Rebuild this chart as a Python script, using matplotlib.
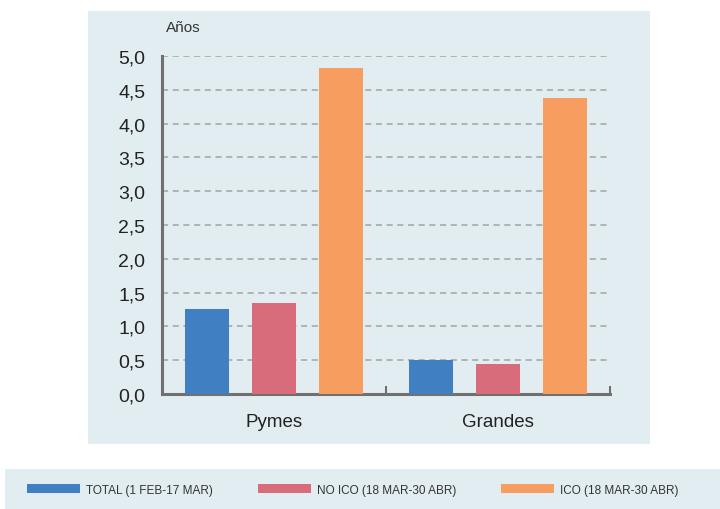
import numpy as np
import matplotlib
matplotlib.use("Agg")
import matplotlib.pyplot as plt
from matplotlib.patches import Rectangle, Patch
from matplotlib.ticker import FuncFormatter, MultipleLocator, FixedLocator

plt.rcParams['font.family'] = ['Liberation Sans', 'DejaVu Sans']

# data (years)
categories = ["Pymes", "Grandes"]
series_names = ["TOTAL (1 FEB-17 MAR)", "NO ICO (18 MAR-30 ABR)", "ICO (18 MAR-30 ABR)"]
total = [1.26, 0.50]
no_ico = [1.35, 0.44]
ico = [4.82, 4.38]
colors = ["#3f7fc2", "#d96c7b", "#f89d60"]

fig = plt.figure(figsize=(7.2, 5.1), dpi=100)
fig.patch.set_facecolor("white")

# background panels
fig.patches.append(Rectangle((0.122, 0.1275), 0.781, 0.849, transform=fig.transFigure,
                             facecolor="#e2edf2", edgecolor="none", zorder=-5))
fig.patches.append(Rectangle((0.007, 0.0), 0.993, 0.078, transform=fig.transFigure,
                             facecolor="#e2edf2", edgecolor="none", zorder=-5))

ax = fig.add_axes([0.225, 0.2255, 0.622, 0.6625])
ax.set_facecolor("none")

x = np.arange(len(categories))
w = 0.196
for i, vals in enumerate([total, no_ico, ico]):
    ax.bar(x + (i - 1) * 0.3, vals, width=w, color=colors[i], zorder=3)

ax.set_xlim(-0.5, 1.5)
ax.set_ylim(0, 5)
ax.yaxis.set_major_locator(MultipleLocator(0.5))
ax.yaxis.set_major_formatter(FuncFormatter(lambda v, p: f"{v:.1f}".replace(".", ",")))
ax.grid(axis="y", linestyle=(0, (4, 3)), color="#a3a3a3", linewidth=1.1, zorder=1)

ax.set_xticks(x)
ax.set_xticklabels(categories, fontsize=13.5, color="#222222")
ax.xaxis.set_minor_locator(FixedLocator([0.5, 1.5]))
ax.tick_params(axis="x", which="major", length=0, pad=14)
ax.tick_params(axis="x", which="minor", direction="in", length=6, width=1.5, color="#707070")
ax.tick_params(axis="y", length=0, pad=12, labelsize=14, labelcolor="#222222")

for s in ["top", "right"]:
    ax.spines[s].set_visible(False)
for s in ["left", "bottom"]:
    ax.spines[s].set_color("#707070")
    ax.spines[s].set_linewidth(2.2)

ax.text(0.008, 1.087, "Años", transform=ax.transAxes, fontsize=11,
        color="#333333", va="center", ha="left")

handles = [Patch(facecolor=c, edgecolor="none") for c in colors]
leg = fig.legend(handles, series_names, loc="center", bbox_to_anchor=(0.49, 1 - 491 / 510),
                 ncol=3, frameon=False, fontsize=8.5, handlelength=4.5, handleheight=0.8,
                 handletextpad=0.5, columnspacing=3.8)
for t in leg.get_texts():
    t.set_color("#333333")

fig.savefig("out.png", dpi=100)
